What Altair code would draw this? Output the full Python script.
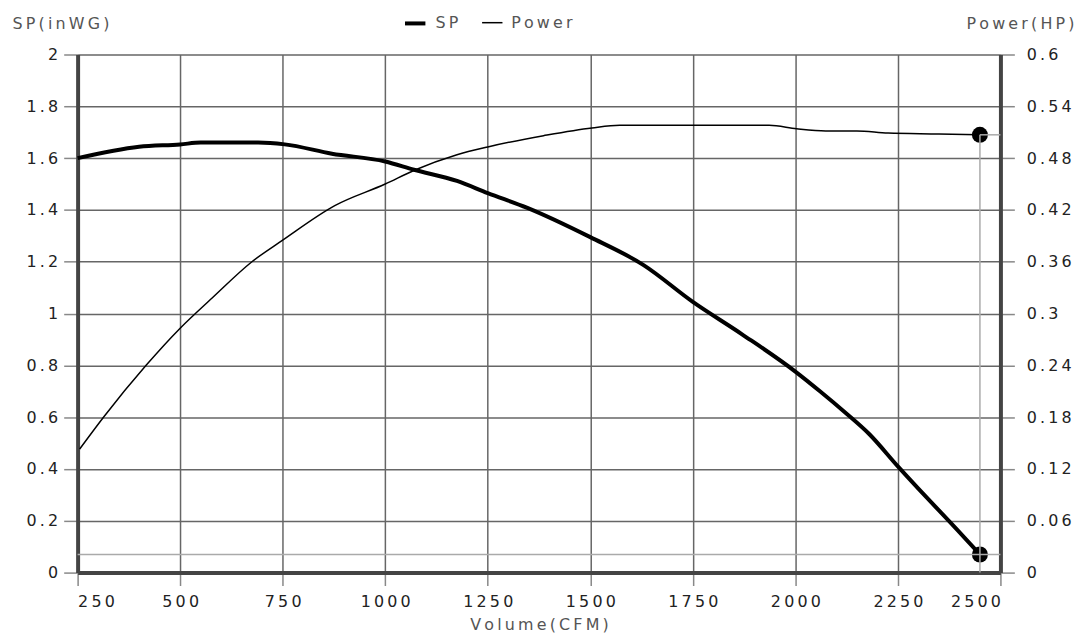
import altair as alt
import pandas as pd

# ---- data ----
sp_cfm = [250, 400, 500, 550, 690, 755, 870, 1000, 1070, 1175, 1250, 1345, 1500,
          1630, 1750, 1870, 2000, 2060, 2120, 2180, 2250, 2320, 2380, 2450]
sp_val = [1.60, 1.644, 1.653, 1.66, 1.66, 1.653, 1.617, 1.587, 1.555, 1.512, 1.465,
          1.409, 1.295, 1.187, 1.045, 0.92, 0.776, 0.70, 0.62, 0.535, 0.41, 0.29, 0.19, 0.07]

pw_cfm = [255, 315, 417, 500, 578, 675, 750, 877, 1000, 1071, 1175, 1250, 1386,
          1504, 1572, 1750, 1936, 2003, 2074, 2150, 2226, 2350, 2450]
pw_val = [0.143, 0.181, 0.240, 0.283, 0.318, 0.360, 0.385, 0.425, 0.450, 0.466, 0.484,
          0.493, 0.506, 0.515, 0.518, 0.518, 0.518, 0.514, 0.5115, 0.5115, 0.509, 0.508, 0.507]

op_cfm = 2450
op_sp = 0.07
op_hp = 0.507
cfm_min, cfm_max = 250, 2500

x_ticks = [250, 500, 750, 1000, 1250, 1500, 1750, 2000, 2250, 2500]
sp_ticks = [0, 0.2, 0.4, 0.6, 0.8, 1.0, 1.2, 1.4, 1.6, 1.8, 2.0]
hp_ticks = [0, 0.06, 0.12, 0.18, 0.24, 0.3, 0.36, 0.42, 0.48, 0.54, 0.6]

series = ["SP", "Power"]

sp_df = pd.DataFrame({"cfm": sp_cfm, "val": sp_val, "series": "SP"})
pw_df = pd.DataFrame({"cfm": pw_cfm, "val": pw_val, "series": "Power"})
op_sp_df = pd.DataFrame({"cfm": [op_cfm], "val": [op_sp], "x0": [cfm_min], "x1": [cfm_max]})
op_hp_df = pd.DataFrame({"cfm": [op_cfm], "val": [op_hp], "zero": [0.0], "x1": [cfm_max]})

TS = "\u2009"
def spaced(s):
    return TS.join(s)

FONT = "DejaVu Sans"
FS = 16
spacing_expr = "replace(format(datum.value, '~g'), /(.)(?=.)/g, '$1" + TS + "')"

x_enc = alt.X(
    "cfm:Q",
    scale=alt.Scale(domain=[cfm_min, cfm_max], nice=False, zero=False),
    axis=alt.Axis(
        values=x_ticks, labelExpr=spacing_expr, tickSize=13, labelPadding=8,
        title=spaced("Volume(CFM)"), titleY=57, titleBaseline="alphabetic",
        grid=True,
    ),
)

sw = alt.StrokeWidth(
    "series:N",
    scale=alt.Scale(domain=series, range=[4, 1.5]),
    legend=alt.Legend(
        title=None, orient="none", legendX=327, legendY=-44, direction="horizontal",
        symbolType="stroke", symbolSize=420, symbolStrokeColor="black",
        labelFont=FONT, labelFontSize=FS, labelColor="#555", labelOffset=8,
        columnPadding=20, padding=0,
        labelExpr="join(split(datum.label, ''), '" + TS + "')",
    ),
)

sp_scale = alt.Scale(domain=[0, 2], nice=False)
hp_scale = alt.Scale(domain=[0, 0.6], nice=False)

sp_line = alt.Chart(sp_df).mark_line(color="black", interpolate="monotone").encode(
    x=x_enc,
    y=alt.Y("val:Q", scale=sp_scale, axis=alt.Axis(
        values=sp_ticks, labelExpr=spacing_expr, tickSize=14, labelPadding=6,
        title=spaced("SP(inWG)"), titleAngle=0, titleAlign="left", titleBaseline="alphabetic",
        titleX=-66, titleY=-26, grid=True,
    )),
    strokeWidth=sw,
)
sp_rule = alt.Chart(op_sp_df).mark_rule(color="#aaa", strokeWidth=1.5).encode(
    x="x0:Q", x2="x1:Q", y=alt.Y("val:Q", scale=sp_scale)
)
sp_pt = alt.Chart(op_sp_df).mark_circle(color="black", size=260, opacity=1).encode(
    x="cfm:Q", y=alt.Y("val:Q", scale=sp_scale)
)
left = alt.layer(sp_line, sp_pt, sp_rule)

pw_line = alt.Chart(pw_df).mark_line(color="black", interpolate="monotone").encode(
    x=x_enc,
    y=alt.Y("val:Q", scale=hp_scale, axis=alt.Axis(
        orient="right", values=hp_ticks, labelExpr=spacing_expr, tickSize=14, labelPadding=12,
        title=spaced("Power(HP)"), titleAngle=0, titleAlign="right", titleBaseline="alphabetic",
        titleX=74, titleY=-26, grid=False,
    )),
    strokeWidth=sw,
)
pw_pt = alt.Chart(op_hp_df).mark_circle(color="black", size=260, opacity=1).encode(
    x="cfm:Q", y=alt.Y("val:Q", scale=hp_scale)
)
pw_vrule = alt.Chart(op_hp_df).mark_rule(color="#aaa", strokeWidth=1.5).encode(
    x="cfm:Q", y=alt.Y("zero:Q", scale=hp_scale), y2="val:Q"
)
pw_hrule = alt.Chart(op_hp_df).mark_rule(color="#aaa", strokeWidth=1.5).encode(
    x="cfm:Q", x2="x1:Q", y=alt.Y("val:Q", scale=hp_scale)
)
right = alt.layer(pw_line, pw_pt, pw_vrule, pw_hrule)

chart = alt.layer(left, right).resolve_scale(y="independent").properties(
    width=928, height=521,
    autosize=alt.AutoSizeParams(type="none"),
    padding={"left": 70, "top": 45, "right": 77, "bottom": 64},
).configure_view(stroke=None).configure_axis(
    gridColor="#666", gridWidth=1.5, domainColor="#444", domainWidth=4,
    tickColor="#888", tickWidth=1.5,
    labelFont=FONT, labelFontSize=FS, labelColor="#222",
    titleFont=FONT, titleFontSize=FS, titleColor="#555", titleFontWeight="normal",
)

chart.save("out.html", embed_options={"renderer": "svg", "actions": False})
